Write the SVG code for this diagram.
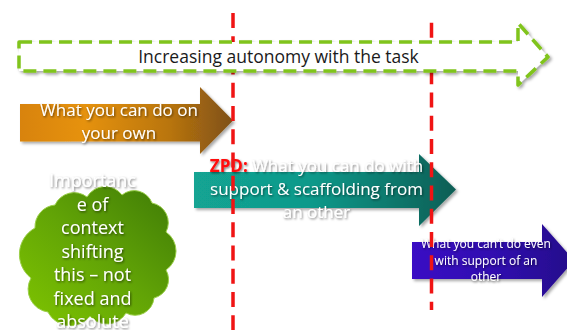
<svg xmlns="http://www.w3.org/2000/svg" width="567" height="330" viewBox="0 0 567 330">
  <defs>
    <linearGradient id="gOrange" x1="0" y1="0" x2="1" y2="0">
      <stop offset="0" stop-color="#D88307"/>
      <stop offset="0.3" stop-color="#E6920F"/>
      <stop offset="0.7" stop-color="#B9750F"/>
      <stop offset="1" stop-color="#7E5015"/>
    </linearGradient>
    <linearGradient id="gTeal" x1="0" y1="0" x2="1" y2="0">
      <stop offset="0" stop-color="#12A493"/>
      <stop offset="0.45" stop-color="#10998A"/>
      <stop offset="1" stop-color="#095E55"/>
    </linearGradient>
    <linearGradient id="gPurple" x1="0" y1="0" x2="1" y2="0">
      <stop offset="0" stop-color="#3A10C4"/>
      <stop offset="0.5" stop-color="#3009B0"/>
      <stop offset="1" stop-color="#25078A"/>
    </linearGradient>
    <linearGradient id="gCloud" x1="0" y1="1" x2="1" y2="0">
      <stop offset="0" stop-color="#80C600"/>
      <stop offset="0.5" stop-color="#62A406"/>
      <stop offset="1" stop-color="#3E7A06"/>
    </linearGradient>
    <filter id="shadow" x="-10%" y="-20%" width="130%" height="150%">
      <feDropShadow dx="2" dy="2" stdDeviation="1.5" flood-color="#000" flood-opacity="0.35"/>
    </filter>
    <filter id="tshadow" x="-10%" y="-30%" width="130%" height="160%">
      <feDropShadow dx="1" dy="1.2" stdDeviation="0.9" flood-color="#000" flood-opacity="0.55"/>
    </filter>
  </defs>
  <style>
    .lbl { font-family: "Open Sans", "Liberation Sans", sans-serif; fill: #FFFFFF; text-anchor: middle; filter: url(#tshadow); }
    .guide { stroke: #F01414; stroke-width: 3.5; stroke-dasharray: 15 8.25; fill: none; }
  </style>

  <g id="own">
    <path d="M20,104 H200 V87 L233,120.5 L200,154 V141.5 H20 Z" fill="url(#gOrange)" filter="url(#shadow)"/>
    <text class="lbl" font-size="17" x="119" y="116">What you can do on</text>
    <text class="lbl" font-size="17" x="119" y="139">your own</text>
  </g>

  <g id="zpd">
    <path d="M194,172 H419 V154 L456,189.5 L419,226 V208 H194 Z" fill="url(#gTeal)" filter="url(#shadow)"/>
    <text class="lbl" font-size="17" x="316.5" y="172"><tspan fill="#FF1010" font-weight="bold">ZPD:</tspan> What you can do with</text>
    <text class="lbl" font-size="17" x="316.5" y="195">support &amp; scaffolding from</text>
    <text class="lbl" font-size="17" x="316.5" y="218">an other</text>
  </g>

  <g id="cannot">
    <path d="M412,242 H542 V224 L574,260.5 L542,297 V279 H412 Z" fill="url(#gPurple)" filter="url(#shadow)"/>
    <text class="lbl" font-size="12" x="486" y="248">What you can’t do even</text>
    <text class="lbl" font-size="12" x="486" y="265">with support of an</text>
    <text class="lbl" font-size="12" x="486" y="281">other</text>
  </g>

  <g id="context">
    <path d="M31,278 A30,30 0 0 1 35,228 A22,22 0 0 1 55,205 A21,21 0 0 1 87,197 A21,21 0 0 1 122,195 A19,19 0 0 1 152,203 A20,20 0 0 1 166,232 A23,23 0 0 1 166,270 A19,19 0 0 1 154,298 A19,19 0 0 1 126,313 A22,22 0 0 1 90,316 A25,25 0 0 1 48,312 A23,23 0 0 1 31,278 Z" fill="url(#gCloud)" stroke="#9BCF4A" stroke-width="1"/>
    <text class="lbl" font-size="18" x="92.5" y="187">Importanc</text>
    <text class="lbl" font-size="18" x="92.5" y="210.5">e of</text>
    <text class="lbl" font-size="18" x="92.5" y="234">context</text>
    <text class="lbl" font-size="18" x="92.5" y="257.5">shifting</text>
    <text class="lbl" font-size="18" x="92.5" y="281">this – not</text>
    <text class="lbl" font-size="18" x="92.5" y="304.5">fixed and</text>
    <text class="lbl" font-size="18" x="92.5" y="328">absolute</text>
  </g>

  <g id="connectors">
    <line class="guide" x1="233" y1="13" x2="233" y2="330"/>
    <line class="guide" x1="431.5" y1="22.7" x2="431.5" y2="310"/>
  </g>

  <g id="autonomy">
    <path d="M19,42 H518 V23 L548,57 L518,85 V71 H19 Z" fill="#FFFFFF" stroke="#80C41C" stroke-width="3.5" stroke-dasharray="13 7" stroke-linejoin="round" filter="url(#shadow)"/>
    <text x="278.5" y="63" font-family="'Open Sans', 'Liberation Sans', sans-serif" font-size="17.5" fill="#1A1A1A" text-anchor="middle">Increasing autonomy with the task</text>
  </g>
</svg>
